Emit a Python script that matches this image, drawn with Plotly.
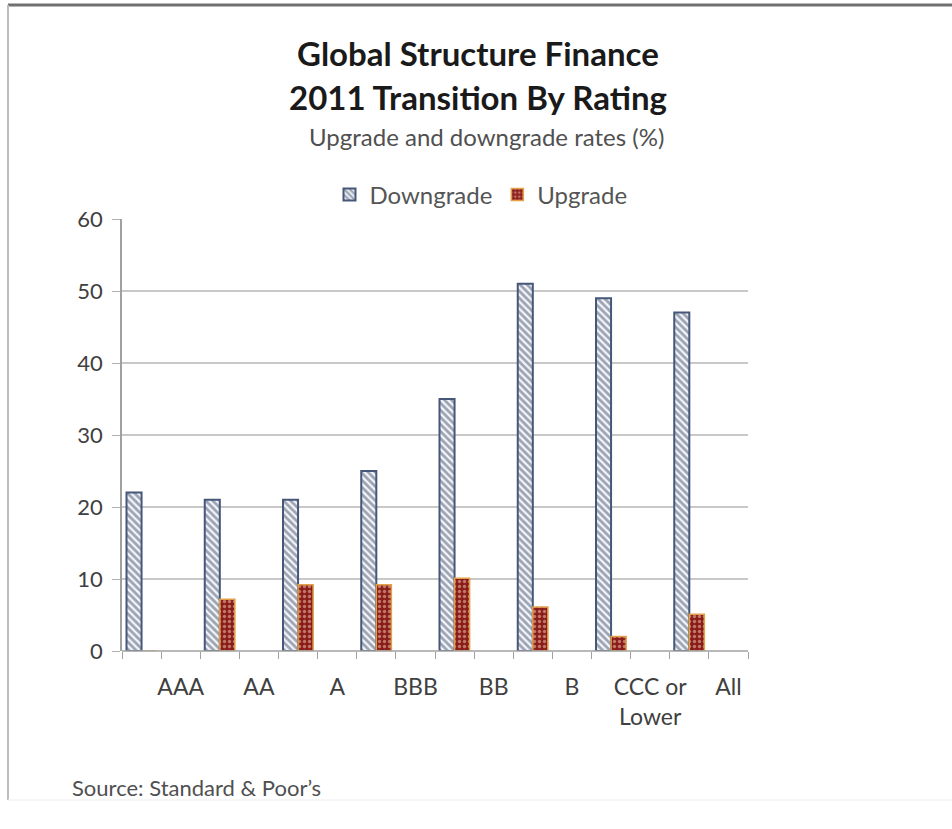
import plotly.graph_objects as go

ratings = ["AAA", "AA", "A", "BBB", "BB", "B", "CCC or<br>Lower", "All"]
downgrade = [22, 21, 21, 25, 35, 51, 49, 47]
upgrade = [0, 7.2, 9.2, 9.2, 10.1, 6.1, 2.0, 5.1]
y_ticks = [0, 10, 20, 30, 40, 50, 60]

# Excel layout quirk: bars sit on even slots, labels on odd slots
bar_slots = [2 * i for i in range(len(ratings))]
label_slots = [2 * i + 1 for i in range(len(ratings))]

W, H = 952, 829
L, R, T, B = 122, 204, 219, 178
pw, ph = W - L - R, H - T - B

def px(x):
    return (x - L) / pw

def py(y):
    return (H - B - y) / ph

FONT = "Lato, 'Open Sans', sans-serif"

fig = go.Figure()
fig.add_trace(go.Bar(
    x=bar_slots, y=downgrade, name="Downgrade",
    marker=dict(
        color="white",
        line=dict(color="#46577a", width=2),
        pattern=dict(shape="\\", fgcolor="#44516b", bgcolor="#f4f6fa", size=5, solidity=0.55),
    ),
))
fig.add_trace(go.Bar(
    x=bar_slots, y=upgrade, name="Upgrade",
    marker=dict(
        color="#8b1c1c",
        line=dict(color="#e3a04a", width=1.5),
        pattern=dict(shape=".", fgcolor="#f3d6b0", bgcolor="#8b1c1c", size=5, solidity=0.35),
    ),
))

fig.update_layout(
    width=W, height=H,
    margin=dict(l=L, r=R, t=T, b=B, pad=0),
    paper_bgcolor="white", plot_bgcolor="white",
    barmode="group", bargap=0.615, bargroupgap=0,
    font=dict(family=FONT, color="#404040", size=18),
    showlegend=True,
    legend=dict(
        orientation="h", x=px(481), y=py(195), xanchor="center", yanchor="middle",
        font=dict(size=24, color="#555555"), itemwidth=30, tracegroupgap=0,
        bgcolor="rgba(0,0,0,0)",
    ),
    xaxis=dict(
        range=[-0.5, 15.5], tickmode="array", tickvals=label_slots, ticktext=ratings,
        ticks="", showgrid=False, zeroline=False, showline=False,
        tickfont=dict(size=23, color="#404040"), ticklabelstandoff=20,
        minor=dict(tick0=-0.5, dtick=1, ticks="outside", ticklen=7, tickcolor="#a0a0a0",
                   tickwidth=1, showgrid=False),
    ),
    yaxis=dict(
        range=[0, 60], tickvals=y_ticks, ticks="outside", ticklen=8, tickcolor="#b0b0b0",
        showgrid=True, gridcolor="#c8c8c8", gridwidth=1.5,
        showline=True, linecolor="#a0a0a0", linewidth=1.5, zeroline=False,
        tickfont=dict(size=22, color="#404040"), ticklabelstandoff=5,
    ),
    shapes=[
        dict(type="line", xref="paper", yref="paper", x0=px(122), x1=px(748), y0=0, y1=0,
             line=dict(color="#a0a0a0", width=1.5)),
        dict(type="line", xref="paper", yref="paper", x0=px(8), x1=px(952), y0=py(5), y1=py(5),
             line=dict(color="#707070", width=3)),
        dict(type="line", xref="paper", yref="paper", x0=px(8), x1=px(8), y0=py(5), y1=py(800),
             line=dict(color="#bdbdbd", width=2)),
        dict(type="line", xref="paper", yref="paper", x0=px(8), x1=px(952), y0=py(800), y1=py(800),
             line=dict(color="#ececec", width=1)),
    ],
    annotations=[
        dict(text="<b>Global Structure Finance</b>", xref="paper", yref="paper",
             x=px(478), y=py(53), showarrow=False, xanchor="center", yanchor="middle",
             font=dict(size=33, color="#1a1a1a", family=FONT)),
        dict(text="<b>2011 Transition By Rating</b>", xref="paper", yref="paper",
             x=px(478), y=py(97), showarrow=False, xanchor="center", yanchor="middle",
             font=dict(size=33, color="#1a1a1a", family=FONT)),
        dict(text="Upgrade and downgrade rates (%)", xref="paper", yref="paper",
             x=px(486), y=py(136), showarrow=False, xanchor="center", yanchor="middle",
             font=dict(size=24, color="#505050", family=FONT)),
        dict(text="Source: Standard &amp; Poor\u2019s", xref="paper", yref="paper",
             x=px(70), y=py(787), showarrow=False, xanchor="left", yanchor="middle",
             font=dict(size=22, color="#505050", family=FONT)),
    ],
)

fig.write_html("out.html")
